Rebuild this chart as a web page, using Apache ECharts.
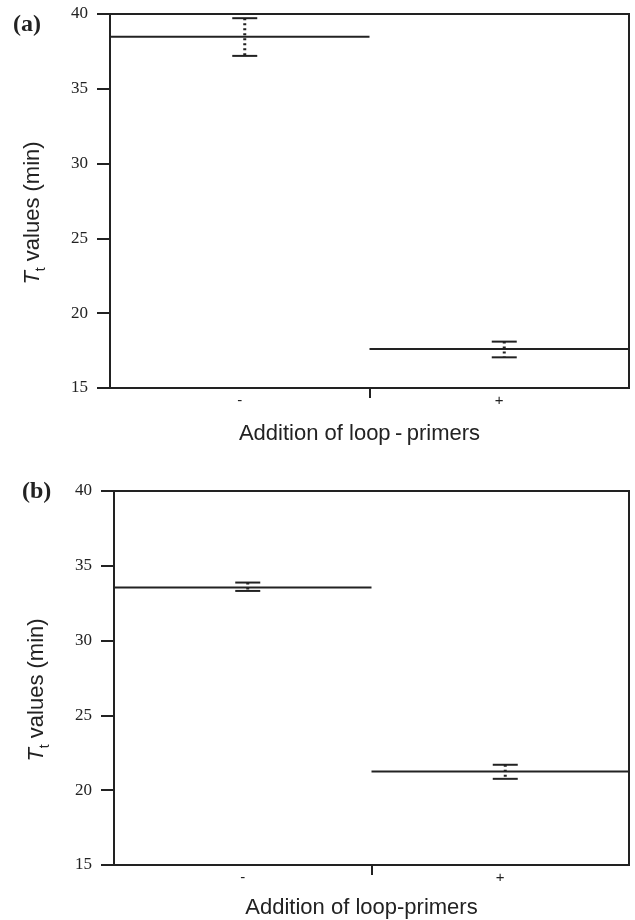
<!DOCTYPE html>
<html>
<head>
<meta charset="utf-8">
<script src="https://cdn.jsdelivr.net/npm/echarts@6/dist/echarts.min.js"></script>
<style>
  html, body { margin: 0; padding: 0; background: #fff; }
  #chart { width: 635px; height: 920px; }
</style>
</head>
<body>
<div id="chart"></div>
<script>
const categories = ['-', '+'];
const yTicks = [15, 20, 25, 30, 35, 40];

// panel (a)
const meanA = [38.48, 17.6];
const upperA = [39.72, 18.1];
const lowerA = [37.2, 17.05];

// panel (b)
const meanB = [33.55, 21.25];
const upperB = [33.88, 21.7];
const lowerB = [33.32, 20.76];

const xNameA = 'Addition of loop\u2009-\u2009primers';
const xNameB = 'Addition of loop-primers';
const yName = '{i|T}{s|t}{n| values (min)}';

const ink = '#222';
const sans = 'Liberation Sans, Arial, sans-serif';
const serif = 'Liberation Serif, Times New Roman, serif';

const chart = echarts.init(document.getElementById('chart'));

// mean line spans the whole category band
function meanItem(params, api) {
    const i = api.value(0);
    const p = api.coord([i + 0.5, api.value(1)]);
    const half = api.size([0.5, 0])[0];
    return {
        type: 'line',
        shape: { x1: p[0] - half, y1: p[1], x2: p[0] + half, y2: p[1] },
        style: { stroke: ink, lineWidth: 2 }
    };
}

// error bar: two caps and a dotted stem, slightly right of band centre
function barItem(params, api) {
    const i = api.value(0);
    const hi = api.coord([i + 0.5, api.value(1)]);
    const lo = api.coord([i + 0.5, api.value(2)]);
    const x = hi[0] + 5;
    const w = 12.5;
    return {
        type: 'group',
        children: [
            { type: 'line', shape: { x1: x - w, y1: hi[1], x2: x + w, y2: hi[1] }, style: { stroke: ink, lineWidth: 2 } },
            { type: 'line', shape: { x1: x - w, y1: lo[1], x2: x + w, y2: lo[1] }, style: { stroke: ink, lineWidth: 2 } },
            { type: 'line', shape: { x1: x, y1: hi[1], x2: x, y2: lo[1] }, style: { stroke: ink, lineWidth: 3, lineDash: [2, 3] } }
        ]
    };
}

function xAxisFor(idx, name, gap) {
    return {
        type: 'value',
        gridIndex: idx,
        min: 0,
        max: categories.length,
        name: name,
        nameLocation: 'middle',
        nameGap: gap,
        nameTextStyle: { fontFamily: sans, fontSize: 22, color: ink, padding: [0, 20, 0, 0] },
        axisLine: { lineStyle: { color: ink, width: 2 } },
        axisTick: { customValues: [1], length: 10, lineStyle: { color: ink, width: 2 } },
        axisLabel: {
            customValues: [0.5, 1.5],
            formatter: v => categories[Math.floor(v)],
            fontFamily: sans, fontSize: 15, color: ink, margin: 5
        },
        splitLine: { show: false }
    };
}

function yAxisFor(idx) {
    return {
        type: 'value',
        gridIndex: idx,
        min: yTicks[0],
        max: yTicks[yTicks.length - 1],
        interval: yTicks[1] - yTicks[0],
        name: yName,
        nameLocation: 'middle',
        nameGap: 62,
        nameTextStyle: {
            fontFamily: sans, fontSize: 22, color: ink, padding: [0, 24, 0, 0],
            rich: {
                i: { fontFamily: sans, fontSize: 22, fontStyle: 'italic', color: ink, lineHeight: 30, verticalAlign: 'middle' },
                s: { fontFamily: sans, fontSize: 14, color: ink, lineHeight: 14, verticalAlign: 'bottom' },
                n: { fontFamily: sans, fontSize: 22, color: ink, lineHeight: 30, verticalAlign: 'middle' }
            }
        },
        axisLine: { show: true, lineStyle: { color: ink, width: 2 } },
        axisTick: { show: true, length: 13, lineStyle: { color: ink, width: 2 } },
        axisLabel: { fontFamily: serif, fontSize: 17, color: ink, margin: 22 },
        splitLine: { show: false }
    };
}

const option = {
    animation: false,
    backgroundColor: '#fff',
    grid: [
        { left: 110, top: 14, right: 6, height: 374, show: true, borderColor: ink, borderWidth: 2, outerBoundsMode: 'none' },
        { left: 114, top: 491, right: 6, height: 374, show: true, borderColor: ink, borderWidth: 2, outerBoundsMode: 'none' }
    ],
    xAxis: [xAxisFor(0, xNameA, 35), xAxisFor(1, xNameB, 32)],
    yAxis: [yAxisFor(0), yAxisFor(1)],
    graphic: [
        { type: 'text', left: 13, top: 13, style: { text: '(a)', font: 'bold 24px ' + serif, fill: ink } },
        { type: 'text', left: 22, top: 480, style: { text: '(b)', font: 'bold 24px ' + serif, fill: ink } }
    ],
    series: [
        {
            type: 'custom', xAxisIndex: 0, yAxisIndex: 0,
            renderItem: meanItem, encode: { x: 0, y: 1 },
            data: meanA.map((m, i) => [i, m])
        },
        {
            type: 'custom', xAxisIndex: 0, yAxisIndex: 0,
            renderItem: barItem, encode: { x: 0, y: [1, 2] },
            data: categories.map((c, i) => [i, upperA[i], lowerA[i]])
        },
        {
            type: 'custom', xAxisIndex: 1, yAxisIndex: 1,
            renderItem: meanItem, encode: { x: 0, y: 1 },
            data: meanB.map((m, i) => [i, m])
        },
        {
            type: 'custom', xAxisIndex: 1, yAxisIndex: 1,
            renderItem: barItem, encode: { x: 0, y: [1, 2] },
            data: categories.map((c, i) => [i, upperB[i], lowerB[i]])
        }
    ]
};

chart.setOption(option);
</script>
</body>
</html>
